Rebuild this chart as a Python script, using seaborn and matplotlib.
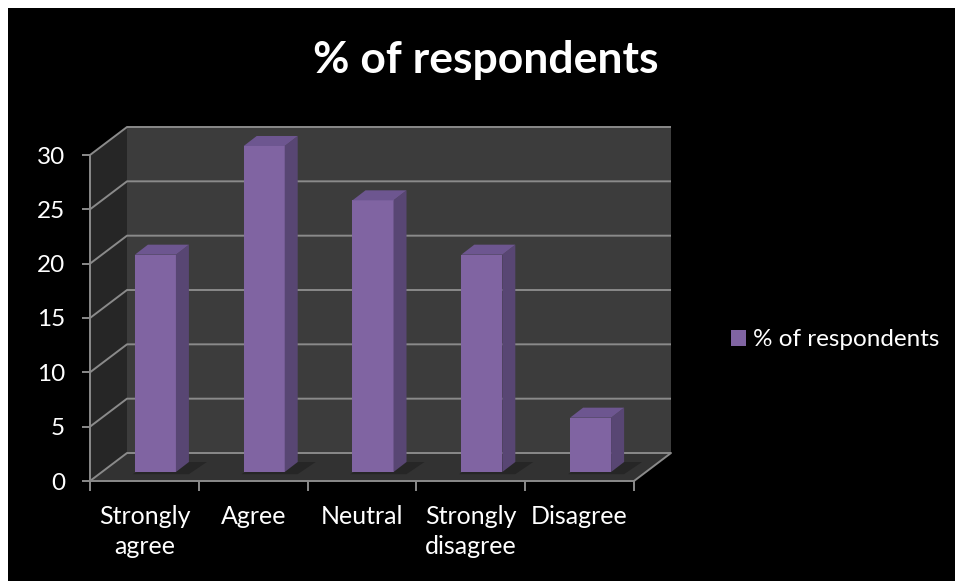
import numpy as np
import pandas as pd
import matplotlib
matplotlib.use("Agg")
import matplotlib.pyplot as plt
import seaborn as sns
from matplotlib.patches import Polygon, Rectangle

# ---- data ----
categories = ["Strongly\nagree", "Agree", "Neutral", "Strongly\ndisagree", "Disagree"]
values = [20, 30, 25, 20, 5]
series_name = "% of respondents"
title = "% of respondents"
y_ticks = [0, 5, 10, 15, 20, 25, 30]

sns.set_theme(style="dark")
plt.rcParams['font.family'] = ['Lato', 'DejaVu Sans']

W, H = 955, 581
fig = plt.figure(figsize=(W / 100, H / 100), dpi=100, facecolor='white')
fig.add_artist(Rectangle((8 / W, 0), 1 - 8 / W, 1 - 8 / H, transform=fig.transFigure,
                         facecolor='black', edgecolor='none', zorder=-10))

ax = fig.add_axes([90 / W, 100 / H, 544 / W, 326 / H])
ax.set_facecolor('none')

df = pd.DataFrame({'category': categories, 'value': values})
sns.barplot(data=df, x='category', y='value', color='#8064a2', saturation=1,
            width=0.377, ax=ax, label=series_name, zorder=3)
bars = list(ax.patches)
ax.set_xlim(-0.5, len(categories) - 0.5)
ax.set_ylim(min(y_ticks), max(y_ticks))

# pixel -> data conversions
p0 = ax.transData.transform((0, 0))
p1 = ax.transData.transform((1, 1))
sx, sy = p1[0] - p0[0], p1[1] - p0[1]


def off(px, py):
    return px / sx, py / sy


DX, DY = off(37, 28)
x0, x1 = -0.5, len(categories) - 0.5
ymax = max(y_ticks)
grid_c = '#8a8a8a'

# walls and floor
ax.add_patch(Rectangle((x0 + DX, DY), x1 - x0, ymax, facecolor='#3c3c3c',
                       edgecolor='none', clip_on=False, zorder=0))
ax.add_patch(Polygon([(x0, 0), (x0 + DX, DY), (x0 + DX, ymax + DY), (x0, ymax)],
                     closed=True, facecolor='#262626', edgecolor='none', clip_on=False, zorder=0))
ax.add_patch(Polygon([(x0, 0), (x1, 0), (x1 + DX, DY), (x0 + DX, DY)],
                     closed=True, facecolor='#323232', edgecolor='none', clip_on=False, zorder=0.5))
for v in y_ticks:
    ax.plot([x0, x0 + DX, x1 + DX], [v, v + DY, v + DY], color=grid_c, lw=1.4,
            clip_on=False, zorder=1, solid_capstyle='butt')
ax.plot([x1, x1 + DX], [0, DY], color=grid_c, lw=1.4, clip_on=False, zorder=1)

# 3D bars
fx, fy = off(11, 9)
bx, by = off(13, 10)
sdx, sdy = off(18, 4)
for p in bars:
    x = p.get_x() + fx
    w = p.get_width()
    h = p.get_height()
    p.set_x(x)
    p.set_y(fy)
    p.set_clip_on(False)
    p.set_edgecolor('none')
    # shadow on floor
    ax.add_patch(Polygon([(x - 0.02, fy - 0.2), (x + w + bx, fy - 0.2), (x + w + bx + sdx, fy + by),
                          (x + sdx, fy + by)], closed=True, facecolor='#262626', edgecolor='none',
                         clip_on=False, zorder=0.8))
    ax.add_patch(Polygon([(x + w, fy), (x + w, fy + h), (x + w + bx, fy + h + by), (x + w + bx, fy + by)],
                         closed=True, facecolor='#584673', edgecolor='none', clip_on=False, zorder=3))
    ax.add_patch(Polygon([(x, fy + h), (x + w, fy + h), (x + w + bx, fy + h + by), (x + bx, fy + h + by)],
                         closed=True, facecolor='#6d5690', edgecolor='none', clip_on=False, zorder=3))

# axes styling
for s in ['top', 'right']:
    ax.spines[s].set_visible(False)
for s in ['left', 'bottom']:
    ax.spines[s].set_color(grid_c)
    ax.spines[s].set_linewidth(1.4)
    ax.spines[s].set_zorder(2)
ax.grid(False)
ax.set_xlabel('')
ax.set_ylabel('')
ax.set_yticks(y_ticks)
ax.set_yticklabels([str(v) for v in y_ticks])
ax.tick_params(axis='y', length=6, width=1.4, color=grid_c, labelcolor='white',
               labelsize=17.5, pad=12, left=True)
ax.set_xticks(range(len(categories)))
ax.set_xticklabels(categories, linespacing=1.4)
ax.set_xticks(np.arange(x0, x1 + 0.01, 1.0), minor=True)
ax.tick_params(axis='x', which='major', length=0, labelcolor='white', labelsize=18, pad=17)
ax.tick_params(axis='x', which='minor', length=7, width=1.4, color=grid_c, bottom=True)

fig.text(486 / W, 1 - 73 / H, title, ha='center', va='baseline', fontsize=32,
         fontweight='bold', color='white')

leg = ax.legend(loc='center left', bbox_to_anchor=(731 / W, 1 - 340 / H),
                bbox_transform=fig.transFigure, frameon=False, fontsize=17.5,
                labelcolor='white', handlelength=0.6, handleheight=0.6,
                handletextpad=0.3, borderpad=0, borderaxespad=0)

fig.savefig('out.png', dpi=100, facecolor=fig.get_facecolor())
